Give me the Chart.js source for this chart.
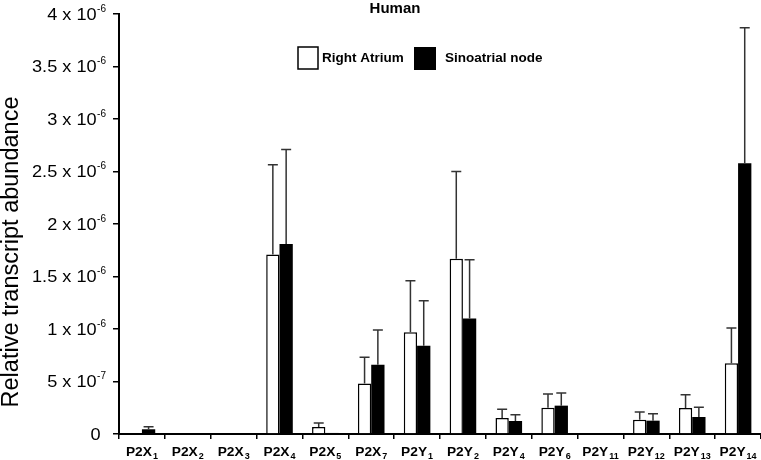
<!DOCTYPE html>
<html>
<head>
<meta charset="utf-8">
<script src="https://cdn.jsdelivr.net/npm/chart.js@4/dist/chart.umd.min.js"></script>
<style>
  body { margin: 0; background: #fff; }
</style>
</head>
<body>
<canvas id="myChart" width="761" height="460"></canvas>
<script>
// receptor names, split in base + subscript
const catBase = ['P2X','P2X','P2X','P2X','P2X','P2X','P2Y','P2Y','P2Y','P2Y','P2Y','P2Y','P2Y','P2Y'];
const catSub = ['1','2','3','4','5','7','1','2','4','6','11','12','13','14'];

// values in units of 10^-6
const raMean = [0, 0, 0, 1.71, 0.067, 0.48, 0.97, 1.67, 0.152, 0.25, 0, 0.136, 0.248, 0.673];
const raErr = [0, 0, 0, 0.855, 0.038, 0.25, 0.49, 0.83, 0.083, 0.13, 0, 0.074, 0.126, 0.337];
const sanMean = [0.045, 0, 0, 1.81, 0.01, 0.66, 0.84, 1.10, 0.124, 0.27, 0, 0.127, 0.162, 2.578];
const sanErr = [0.025, 0, 0, 0.90, 0, 0.33, 0.43, 0.56, 0.06, 0.12, 0, 0.066, 0.092, 1.29];

// y tick labels: mantissa x 10^exp
const yTickVals = [0, 0.5, 1, 1.5, 2, 2.5, 3, 3.5, 4];
const yTickMant = ['0', '5', '1', '1.5', '2', '2.5', '3', '3.5', '4'];
const yTickExp = ['', '-7', '-6', '-6', '-6', '-6', '-6', '-6', '-6'];

const seriesNames = ['Right Atrium', 'Sinoatrial node'];

function stretchText(ctx, txt, x, y, sx) {
  ctx.save();
  ctx.translate(x, y);
  ctx.scale(sx, 1);
  ctx.fillText(txt, 0, 0);
  ctx.restore();
}

const drawExtras = {
  id: 'drawExtras',
  afterDatasetsDraw(chart) {
    const ctx = chart.ctx;
    const ys = chart.scales.y;
    const means = [raMean, sanMean];
    const errs = [raErr, sanErr];
    ctx.save();
    ctx.strokeStyle = '#333';
    ctx.lineWidth = 1.5;
    for (let d = 0; d < 2; d++) {
      const meta = chart.getDatasetMeta(d);
      meta.data.forEach((bar, i) => {
        if (!errs[d][i]) return;
        const y0 = ys.getPixelForValue(means[d][i]);
        const y1 = ys.getPixelForValue(means[d][i] + errs[d][i]);
        ctx.beginPath();
        ctx.moveTo(bar.x, y0);
        ctx.lineTo(bar.x, y1);
        ctx.moveTo(bar.x - 5, y1);
        ctx.lineTo(bar.x + 5, y1);
        ctx.stroke();
      });
    }
    ctx.restore();
  },
  afterDraw(chart) {
    const ctx = chart.ctx;
    const ys = chart.scales.y;
    const xs = chart.scales.x;
    ctx.save();
    ctx.fillStyle = '#000';
    ctx.textBaseline = 'middle';

    // y tick labels with superscript
    yTickVals.forEach((v, i) => {
      const py = ys.getPixelForValue(v);
      ctx.font = '16.5px Arial, "Liberation Sans", sans-serif';
      const sx = 1.1;
      const mainTxt = yTickExp[i] ? yTickMant[i] + ' x 10' : yTickMant[i];
      const mw = ctx.measureText(mainTxt).width * sx;
      ctx.font = '10px Arial, "Liberation Sans", sans-serif';
      const ew = yTickExp[i] ? ctx.measureText(yTickExp[i]).width : 0;
      const right = yTickExp[i] ? 106 : 101;
      ctx.font = '16.5px Arial, "Liberation Sans", sans-serif';
      stretchText(ctx, mainTxt, right - ew - mw - 0.5, py + 1, sx);
      if (yTickExp[i]) {
        ctx.font = '10px Arial, "Liberation Sans", sans-serif';
        ctx.fillText(yTickExp[i], right - ew, py - 5);
      }
    });

    // x labels with subscript
    ctx.textBaseline = 'alphabetic';
    catBase.forEach((b, i) => {
      const px = xs.getPixelForValue(i);
      ctx.font = 'bold 12.5px Arial, "Liberation Sans", sans-serif';
      const sx = 1.1;
      const bw = ctx.measureText(b).width * sx;
      ctx.font = 'bold 9px Arial, "Liberation Sans", sans-serif';
      const sw = ctx.measureText(catSub[i]).width;
      const left = px - (bw + sw + 1) / 2;
      ctx.font = 'bold 12.5px Arial, "Liberation Sans", sans-serif';
      stretchText(ctx, b, left, 456, sx);
      ctx.font = 'bold 9px Arial, "Liberation Sans", sans-serif';
      ctx.fillText(catSub[i], left + bw + 1, 459);
    });

    // y axis title
    ctx.save();
    ctx.translate(18, 252);
    ctx.rotate(-Math.PI / 2);
    ctx.textAlign = 'center';
    ctx.font = '23.5px Arial, "Liberation Sans", sans-serif';
    ctx.fillText('Relative transcript abundance', 0, 0);
    ctx.restore();

    // chart title
    ctx.textAlign = 'center';
    ctx.font = 'bold 15px Arial, "Liberation Sans", sans-serif';
    ctx.fillText('Human', 395, 13);

    // legend
    ctx.textAlign = 'left';
    ctx.textBaseline = 'middle';
    ctx.font = 'bold 13.5px Arial, "Liberation Sans", sans-serif';
    ctx.lineWidth = 1.5;
    ctx.strokeStyle = '#000';
    ctx.fillStyle = '#fff';
    ctx.fillRect(298, 47, 20, 22);
    ctx.strokeRect(298, 47, 20, 22);
    ctx.fillStyle = '#000';
    ctx.fillText(seriesNames[0], 322, 58);
    ctx.fillRect(414, 47, 22, 23);
    ctx.fillText(seriesNames[1], 445, 58);

    ctx.restore();
  }
};

const ctx = document.getElementById('myChart');

new Chart(ctx, {
  type: 'bar',
  data: {
    labels: catBase.map((b, i) => b + catSub[i]),
    datasets: [{
      label: seriesNames[0],
      data: raMean,
      backgroundColor: '#fff',
      borderColor: '#000',
      borderWidth: 1.5,
      borderSkipped: 'start',
      barPercentage: 1,
      categoryPercentage: 0.58
    }, {
      label: seriesNames[1],
      data: sanMean,
      backgroundColor: '#000',
      borderColor: '#000',
      borderWidth: 0,
      barPercentage: 1,
      categoryPercentage: 0.58
    }]
  },
  options: {
    responsive: false,
    animation: false,
    layout: { padding: { top: 14, right: 0, left: 0, bottom: 0 } },
    scales: {
      x: {
        grid: { display: true, drawOnChartArea: false, drawTicks: true, tickLength: 5, color: '#000', lineWidth: 1.5, offset: true },
        border: { display: true, color: '#000', width: 2 },
        ticks: { display: false },
        afterFit: s => { s.height = 26; }
      },
      y: {
        min: 0,
        max: 4,
        grid: { display: true, drawOnChartArea: false, drawTicks: true, tickLength: 6, color: '#000', lineWidth: 1.5 },
        border: { display: true, color: '#000', width: 2 },
        ticks: { display: false, stepSize: 0.5 },
        afterFit: s => { s.width = 119; }
      }
    },
    plugins: {
      legend: { display: false },
      tooltip: { enabled: false }
    }
  },
  plugins: [drawExtras]
});
</script>
</body>
</html>
